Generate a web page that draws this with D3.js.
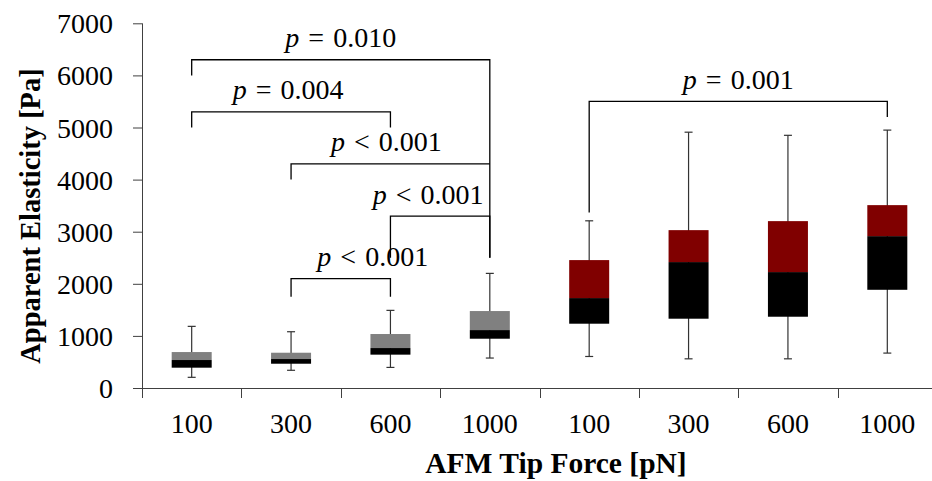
<!DOCTYPE html>
<html>
<head>
<meta charset="utf-8">
<script src="https://cdn.jsdelivr.net/npm/d3@7"></script>
<style>
  body { margin: 0; background: #fff; }
  text { font-family: "Liberation Serif", "Times New Roman", serif; }
</style>
</head>
<body>
<svg id="chart"></svg>
<script>
// tip force groups (first four: gray series, last four: red series)
const categories = ["100", "300", "600", "1000", "100", "300", "600", "1000"];
const whiskerLow  = [205, 340, 395, 575, 605, 560, 560, 670];
const q1          = [390, 466, 640, 946, 1234, 1330, 1368, 1885];
const median      = [537, 556, 767, 1112, 1726, 2417, 2225, 2915];
const q3          = [690, 677, 1036, 1477, 2455, 3030, 3203, 3510];
const whiskerHigh = [1183, 1080, 1490, 2200, 3209, 4910, 4850, 4950];
const series      = [0, 0, 0, 0, 1, 1, 1, 1];
const yTicks = [0, 1000, 2000, 3000, 4000, 5000, 6000, 7000];

// significance brackets: group indices, bar height and leg ends (Pa)
const brackets = [
  {a: 0, b: 3, y: 6300, endA: 6000, endB: 2500, op: "=", p: "0.010"},
  {a: 0, b: 2, y: 5300, endA: 5000, endB: 5000, op: "=", p: "0.004"},
  {a: 1, b: 3, y: 4300, endA: 4000, endB: 4300, op: "<", p: "0.001"},
  {a: 2, b: 3, y: 3300, endA: 2500, endB: 2500, op: "<", p: "0.001"},
  {a: 1, b: 2, y: 2100, endA: 1750, endB: 1750, op: "<", p: "0.001"},
  {a: 4, b: 7, y: 5500, endA: 3370, endB: 5200, op: "=", p: "0.001"}
];
// horizontal nudge of each label from the bracket midpoint (px)
const labelShift = [0, -3, -4, -12, 32, 0];

const W = 932, H = 481;
const upperFill = ["#808080", "#800000"];
const fontSize = 28;

const svg = d3.select("#chart").attr("width", W).attr("height", H);

const x = d3.scaleBand().domain(d3.range(categories.length)).range([142, 937]).paddingInner(0).paddingOuter(0);
const y = d3.scaleLinear().domain([0, 7000]).range([388, 23.3]);
const boxW = 40;
const cx = i => x(i) + x.bandwidth() / 2;

// axes
const axisColor = "#404040";
const yAxis = svg.append("g").attr("transform", "translate(142,0)")
  .call(d3.axisLeft(y).tickValues(yTicks).tickSize(9).tickPadding(20).tickFormat(d3.format("d")));
yAxis.select(".domain").remove();
yAxis.selectAll(".tick line").attr("stroke", axisColor);
yAxis.selectAll("text").attr("font-size", fontSize).attr("fill", "#000").attr("dy", "0.34em");

svg.append("line").attr("x1", 142.5).attr("x2", 142.5).attr("y1", y(7000)).attr("y2", 398)
  .attr("stroke", axisColor);
svg.append("line").attr("x1", 133).attr("x2", 937).attr("y1", 388.5).attr("y2", 388.5)
  .attr("stroke", axisColor);

// category boundary ticks
svg.append("g").selectAll("line").data(d3.range(1, categories.length)).join("line")
  .attr("x1", d => Math.round(x(d)) + 0.5).attr("x2", d => Math.round(x(d)) + 0.5)
  .attr("y1", 388).attr("y2", 398).attr("stroke", axisColor);

svg.append("g").selectAll("text").data(categories).join("text")
  .attr("x", (d, i) => cx(i)).attr("y", 433)
  .attr("text-anchor", "middle").attr("font-size", fontSize)
  .text(d => d);

// axis titles
svg.append("text").attr("x", 556).attr("y", 473)
  .attr("text-anchor", "middle").attr("font-size", 29.5).attr("font-weight", "bold")
  .text("AFM Tip Force [pN]");
svg.append("text").attr("transform", "translate(39.5,216) rotate(-90)")
  .attr("text-anchor", "middle").attr("font-size", 28.5).attr("font-weight", "bold")
  .text("Apparent Elasticity [Pa]");

// box plots
const idx = d3.range(categories.length);
const whiskerColor = "#333";
const g = svg.append("g");
g.selectAll(".whisker").data(idx).join("line")
  .attr("x1", i => cx(i)).attr("x2", i => cx(i))
  .attr("y1", i => y(whiskerLow[i])).attr("y2", i => y(whiskerHigh[i]))
  .attr("stroke", whiskerColor).attr("stroke-width", 1.2);
g.selectAll(".capHi").data(idx).join("line")
  .attr("x1", i => cx(i) - 4).attr("x2", i => cx(i) + 4)
  .attr("y1", i => y(whiskerHigh[i])).attr("y2", i => y(whiskerHigh[i]))
  .attr("stroke", whiskerColor).attr("stroke-width", 1.2);
g.selectAll(".capLo").data(idx).join("line")
  .attr("x1", i => cx(i) - 4).attr("x2", i => cx(i) + 4)
  .attr("y1", i => y(whiskerLow[i])).attr("y2", i => y(whiskerLow[i]))
  .attr("stroke", whiskerColor).attr("stroke-width", 1.2);
g.selectAll(".lower").data(idx).join("rect")
  .attr("x", i => cx(i) - boxW / 2).attr("width", boxW)
  .attr("y", i => y(median[i])).attr("height", i => y(q1[i]) - y(median[i]))
  .attr("fill", "#000");
g.selectAll(".upper").data(idx).join("rect")
  .attr("x", i => cx(i) - boxW / 2).attr("width", boxW)
  .attr("y", i => y(q3[i])).attr("height", i => y(median[i]) - y(q3[i]))
  .attr("fill", i => upperFill[series[i]]);

// significance brackets
const bg = svg.append("g");
brackets.forEach((b, k) => {
  const xa = cx(b.a), xb = cx(b.b), yb = y(b.y);
  bg.append("path")
    .attr("d", `M${xa},${y(b.endA)}V${yb}H${xb}V${y(b.endB)}`)
    .attr("fill", "none").attr("stroke", "#000").attr("stroke-width", 1.3);
  const t = bg.append("text")
    .attr("x", (xa + xb) / 2 + labelShift[k]).attr("y", yb - 12.5)
    .attr("text-anchor", "middle").attr("font-size", fontSize)
    .attr("word-spacing", 2);
  t.append("tspan").attr("font-style", "italic").text("p");
  t.append("tspan").text(` ${b.op} ${b.p}`);
});
</script>
</body>
</html>
